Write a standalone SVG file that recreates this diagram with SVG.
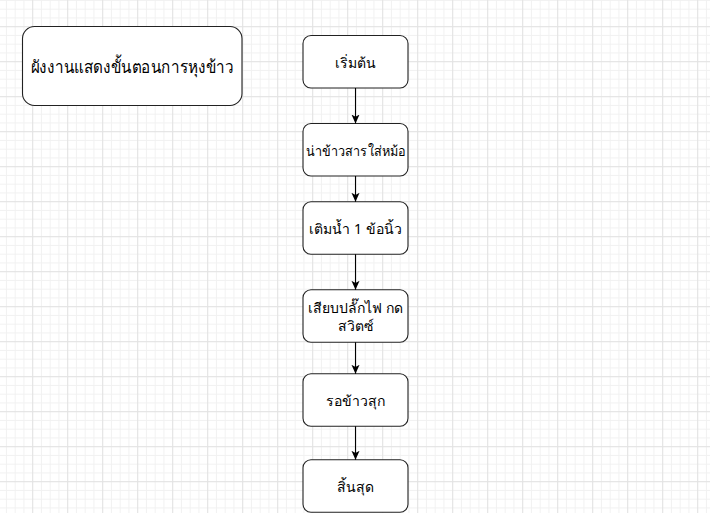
<svg xmlns="http://www.w3.org/2000/svg" width="710" height="513" viewBox="0 0 710 513">
  <defs>
    <pattern id="minor" patternUnits="userSpaceOnUse" x="5.95" y="-0.05" width="8.75" height="8.75">
      <rect x="0" y="0" width="1" height="8.75" fill="#f1f1f1"/>
      <rect x="0" y="0" width="8.75" height="1" fill="#f1f1f1"/>
    </pattern>
    <pattern id="major" patternUnits="userSpaceOnUse" x="32.2" y="26.2" width="35" height="35">
      <rect x="0" y="0" width="1" height="35" fill="#e2e2e2"/>
      <rect x="0" y="0" width="35" height="1" fill="#e2e2e2"/>
    </pattern>
    <marker id="arrow" viewBox="0 0 10 10" refX="10" refY="5" markerWidth="9" markerHeight="9" markerUnits="userSpaceOnUse" orient="auto">
      <path d="M0,0.5 L10,5 L0,9.5 L2.5,5 Z" fill="#000"/>
    </marker>
    <style>
      .box { fill: #ffffff; stroke: #222222; stroke-width: 1.1; }
      .lbl { font-family: "Noto Sans", "DejaVu Sans", "Liberation Sans", sans-serif; font-size: 14px; fill: #000; text-anchor: middle; dominant-baseline: central; }
      .title { font-size: 17.5px; }
      .edge { stroke: #000; stroke-width: 1.1; fill: none; marker-end: url(#arrow); }
    </style>
  </defs>
  <rect width="710" height="513" fill="#ffffff"/>
  <rect width="710" height="513" fill="url(#minor)"/>
  <rect width="710" height="513" fill="url(#major)"/>

  <g id="title">
    <rect class="box" x="22.5" y="26.5" width="219.5" height="79" rx="12"/>
    <text class="lbl title" x="132.25" y="66" textLength="203" lengthAdjust="spacingAndGlyphs">ผังงานแสดงขั้นตอนการหุงข้าว</text>
  </g>

  <g id="start">
    <rect class="box" x="303" y="35.5" width="105" height="52.5" rx="8"/>
    <text class="lbl" x="355.5" y="62">เริ่มต้น</text>
  </g>
  <g id="step1">
    <rect class="box" x="303" y="123.5" width="105" height="52.5" rx="8"/>
    <text class="lbl" x="355.5" y="150" textLength="100" lengthAdjust="spacingAndGlyphs">น่าข้าวสารใส่หม้อ</text>
  </g>
  <g id="step2">
    <rect class="box" x="303" y="201.75" width="105" height="52.5" rx="8"/>
    <text class="lbl" x="355.5" y="228">เติมน้ำ 1 ข้อนิ้ว</text>
  </g>
  <g id="step3">
    <rect class="box" x="303" y="289.75" width="105" height="52.5" rx="8"/>
    <text class="lbl" x="355.5" y="307.5">เสียบปลั๊กไฟ กด</text>
    <text class="lbl" x="355.5" y="325">สวิตซ์</text>
  </g>
  <g id="step4">
    <rect class="box" x="303" y="373.75" width="105" height="52.5" rx="8"/>
    <text class="lbl" x="355.5" y="400">รอข้าวสุก</text>
  </g>
  <g id="end">
    <rect class="box" x="303" y="459.75" width="105" height="52.5" rx="8"/>
    <text class="lbl" x="355.5" y="486">สิ้นสุด</text>
  </g>

  <g id="connectors">
    <line class="edge" x1="355.5" y1="88" x2="355.5" y2="123.5"/>
    <line class="edge" x1="355.5" y1="176" x2="355.5" y2="201.75"/>
    <line class="edge" x1="355.5" y1="254.25" x2="355.5" y2="289.75"/>
    <line class="edge" x1="355.5" y1="342.25" x2="355.5" y2="373.75"/>
    <line class="edge" x1="355.5" y1="426.25" x2="355.5" y2="459.75"/>
  </g>
</svg>
